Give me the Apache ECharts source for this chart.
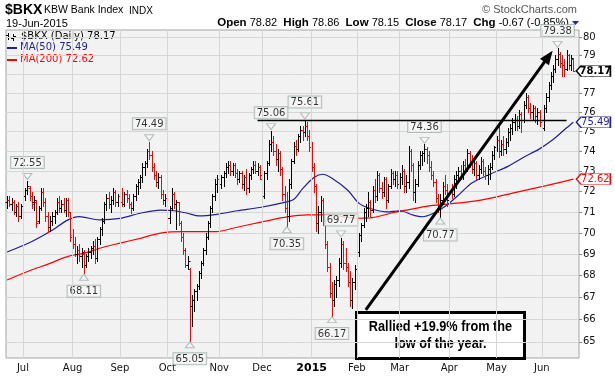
<!DOCTYPE html>
<html>
<head>
<meta charset="utf-8">
<script src="https://cdn.jsdelivr.net/npm/echarts@6/dist/echarts.min.js"></script>
<style>
  html, body { margin: 0; padding: 0; background: #fff; }
  #chart { width: 615px; height: 376px; }
</style>
</head>
<body>
<div id="chart"></div>
<script>
// trading days per month, Jun 20 2014 .. Jun 19 2015
const monthDays = [
  ["2014-06", [20, 23, 24, 25, 26, 27, 30]],
  ["2014-07", [1, 2, 3, 7, 8, 9, 10, 11, 14, 15, 16, 17, 18, 21, 22, 23, 24, 25, 28, 29, 30, 31]],
  ["2014-08", [1, 4, 5, 6, 7, 8, 11, 12, 13, 14, 15, 18, 19, 20, 21, 22, 25, 26, 27, 28, 29]],
  ["2014-09", [2, 3, 4, 5, 8, 9, 10, 11, 12, 15, 16, 17, 18, 19, 22, 23, 24, 25, 26, 29, 30]],
  ["2014-10", [1, 2, 3, 6, 7, 8, 9, 10, 13, 14, 15, 16, 17, 20, 21, 22, 23, 24, 27, 28, 29, 30, 31]],
  ["2014-11", [3, 4, 5, 6, 7, 10, 11, 12, 13, 14, 17, 18, 19, 20, 21, 24, 25, 26, 28]],
  ["2014-12", [1, 2, 3, 4, 5, 8, 9, 10, 11, 12, 15, 16, 17, 18, 19, 22, 23, 24, 26, 29, 30, 31]],
  ["2015-01", [2, 5, 6, 7, 8, 9, 12, 13, 14, 15, 16, 20, 21, 22, 23, 26, 27, 28, 29, 30]],
  ["2015-02", [2, 3, 4, 5, 6, 9, 10, 11, 12, 13, 17, 18, 19, 20, 23, 24, 25, 26, 27]],
  ["2015-03", [2, 3, 4, 5, 6, 9, 10, 11, 12, 13, 16, 17, 18, 19, 20, 23, 24, 25, 26, 27, 30, 31]],
  ["2015-04", [1, 2, 6, 7, 8, 9, 10, 13, 14, 15, 16, 17, 20, 21, 22, 23, 24, 27, 28, 29, 30]],
  ["2015-05", [1, 4, 5, 6, 7, 8, 11, 12, 13, 14, 15, 18, 19, 20, 21, 22, 26, 27, 28, 29]],
  ["2015-06", [1, 2, 3, 4, 5, 8, 9, 10, 11, 12, 15, 16, 17, 18, 19]],
];
const monthLabels = ["", "Jul", "Aug", "Sep", "Oct", "Nov", "Dec", "2015", "Feb", "Mar", "Apr", "May", "Jun"];

const opens = [
  71.5, 71.6, 71.4, 71.5, 71.0, 71.3, 70.8, 71.3, 71.8, 72.1, 72.2, 71.8, 71.5, 71.5, 70.6, 71.2, 72.0, 71.5, 70.8, 70.3,
  70.6, 70.8, 71.0, 71.5, 71.2, 71.4, 71.1, 71.6, 71.0, 69.9, 69.5, 69.0, 69.2, 68.9, 69.0, 68.5, 68.9, 69.1, 69.3, 69.4,
  68.8, 69.7, 70.2, 70.6, 71.4, 71.7, 71.4, 71.6, 72.0, 71.5, 71.8, 71.5, 71.4, 71.9, 71.7, 71.4, 71.2, 71.8, 72.3, 72.5,
  72.7, 73.2, 73.4, 74.0, 73.8, 73.2, 72.8, 72.5, 72.7, 71.9, 71.6, 71.7, 70.7, 71.2, 71.9, 71.4, 71.5, 70.5, 69.8, 69.2,
  68.5, 68.3, 66.6, 66.9, 67.3, 67.5, 68.1, 68.6, 69.2, 69.8, 70.5, 71.2, 71.8, 72.4, 72.6, 72.4, 72.7, 72.9, 73.2, 73.3,
  73.0, 73.3, 72.9, 72.6, 72.9, 72.4, 72.7, 72.2, 72.8, 73.1, 73.3, 73.0, 73.2, 72.6, 71.8, 72.9, 73.4, 74.4, 74.5, 74.0,
  73.6, 73.9, 73.1, 71.9, 71.2, 70.8, 72.4, 73.5, 74.3, 74.1, 74.8, 75.1, 75.0, 75.3, 74.8, 74.2, 73.2, 72.3, 70.5, 71.0,
  71.6, 70.6, 69.5, 68.4, 67.2, 66.9, 67.6, 67.8, 68.6, 69.5, 68.6, 68.4, 67.7, 66.9, 67.7, 68.3, 69.1, 69.9, 70.4, 71.0,
  71.2, 71.5, 71.1, 72.1, 71.8, 72.8, 72.2, 72.0, 72.6, 71.6, 72.3, 72.9, 72.6, 72.8, 72.4, 72.7, 73.0, 72.3, 72.5, 74.0,
  73.3, 72.0, 72.4, 73.3, 73.8, 73.9, 74.1, 73.8, 73.2, 72.8, 72.5, 71.7, 71.3, 71.6, 72.3, 72.1, 71.6, 72.0, 71.9, 72.6,
  72.8, 73.0, 72.8, 73.3, 73.1, 73.9, 73.5, 73.1, 73.4, 72.8, 73.1, 73.5, 73.0, 72.8, 73.1, 73.2, 73.8, 74.2, 74.6, 74.0,
  74.4, 74.1, 74.5, 75.0, 75.2, 75.5, 75.6, 75.3, 75.9, 75.6, 76.4, 76.8, 76.2, 76.0, 76.2, 75.8, 76.0, 75.5, 75.2, 76.2,
  76.8, 77.4, 77.9, 78.3, 78.8, 79.1, 78.6, 78.5, 78.3, 79.0, 78.5, 78.82,
];
const highs = [
  71.8, 71.8, 71.7, 71.6, 71.4, 71.5, 71.4, 71.9, 72.2, 72.55, 72.3, 72.0, 71.8, 71.6, 71.3, 72.2, 72.2, 71.7, 71.0, 70.8,
  71.0, 71.1, 71.7, 71.8, 71.6, 71.7, 71.7, 71.7, 71.0, 70.2, 69.8, 69.4, 69.5, 69.3, 69.2, 69.0, 69.3, 69.4, 69.6, 69.7,
  69.8, 70.3, 70.7, 71.5, 71.9, 72.0, 71.8, 72.2, 72.1, 71.9, 72.1, 72.2, 72.0, 72.1, 71.9, 71.5, 71.9, 72.4, 72.6, 72.8,
  73.4, 73.5, 74.1, 74.49, 74.0, 73.4, 73.0, 72.9, 72.8, 72.1, 71.9, 71.7, 71.3, 72.2, 72.0, 71.6, 71.5, 70.6, 70.0, 69.3,
  68.9, 68.35, 67.1, 67.4, 67.6, 68.2, 68.7, 69.3, 70.0, 70.6, 71.3, 71.9, 72.6, 72.8, 72.9, 72.8, 73.0, 73.4, 73.5, 73.5,
  73.4, 73.4, 73.1, 73.0, 73.0, 72.8, 73.1, 72.9, 73.2, 73.5, 73.5, 73.4, 73.3, 72.7, 73.0, 73.5, 74.6, 75.06, 74.8, 74.4,
  74.1, 74.0, 73.2, 72.3, 72.0, 72.6, 73.6, 74.5, 74.6, 74.9, 75.3, 75.3, 75.61, 75.5, 75.1, 74.5, 73.4, 72.4, 71.3, 71.8,
  71.7, 70.7, 69.6, 68.6, 67.7, 67.8, 68.0, 68.8, 69.77, 69.6, 69.3, 68.6, 68.2, 67.9, 68.5, 69.3, 70.0, 70.5, 71.2, 71.4,
  72.0, 71.6, 72.3, 72.6, 73.0, 72.9, 72.5, 72.7, 72.7, 72.4, 73.1, 73.0, 73.0, 73.0, 72.9, 73.3, 73.1, 72.8, 74.3, 74.1,
  73.4, 72.6, 73.5, 74.0, 74.0, 74.36, 74.2, 74.0, 73.5, 73.0, 72.6, 71.9, 71.9, 72.5, 72.8, 72.4, 72.2, 72.4, 72.8, 73.0,
  73.2, 73.3, 73.5, 73.6, 74.1, 74.0, 73.8, 73.6, 73.5, 73.3, 73.7, 73.6, 73.2, 73.3, 73.4, 74.0, 74.3, 74.8, 75.5, 74.6,
  74.8, 74.7, 75.2, 75.4, 75.7, 75.9, 75.8, 76.1, 76.0, 76.6, 77.0, 76.9, 76.5, 76.4, 76.3, 76.2, 76.1, 75.7, 76.4, 77.0,
  77.6, 78.1, 78.5, 79.0, 79.38, 79.2, 79.0, 78.8, 79.3, 79.1, 79.0, 78.86,
];
const lows = [
  71.2, 71.3, 71.1, 70.9, 70.8, 70.6, 70.7, 71.2, 71.6, 71.9, 71.6, 71.2, 71.1, 70.3, 70.5, 71.1, 71.3, 70.6, 70.05, 70.1,
  70.4, 70.5, 70.9, 71.0, 71.0, 71.0, 70.8, 70.8, 69.6, 69.3, 68.9, 68.6, 68.7, 68.4, 68.11, 68.4, 68.7, 68.8, 69.0, 68.6,
  68.7, 69.5, 69.9, 70.5, 71.1, 71.2, 71.0, 71.4, 71.3, 71.3, 71.2, 71.3, 71.3, 71.5, 71.2, 70.95, 71.1, 71.6, 71.9, 72.2,
  72.5, 72.8, 73.2, 73.6, 73.0, 72.6, 72.3, 72.2, 71.7, 71.4, 71.3, 70.5, 70.5, 71.1, 71.2, 70.2, 70.4, 69.6, 69.0, 68.4,
  68.3, 65.05, 65.7, 66.4, 66.9, 67.4, 67.9, 68.5, 69.0, 69.7, 70.3, 71.0, 71.6, 72.0, 72.1, 72.2, 72.3, 72.7, 72.9, 72.8,
  72.8, 72.7, 72.4, 72.5, 72.2, 72.1, 71.9, 72.0, 72.6, 72.9, 72.9, 72.8, 72.6, 71.2, 71.7, 72.6, 73.3, 74.0, 73.8, 73.3,
  73.0, 72.8, 71.6, 71.0, 70.35, 70.6, 72.2, 73.4, 73.8, 74.0, 74.5, 74.6, 74.8, 74.6, 74.0, 73.0, 72.0, 70.1, 70.0, 70.6,
  70.4, 69.3, 68.2, 67.0, 66.17, 66.6, 67.0, 67.5, 68.4, 68.3, 68.2, 67.5, 66.6, 66.5, 67.4, 68.1, 68.9, 69.6, 70.3, 70.6,
  70.8, 70.8, 71.0, 71.5, 71.6, 72.0, 71.7, 71.8, 71.2, 71.5, 72.2, 72.4, 72.3, 72.2, 72.2, 72.4, 72.0, 72.0, 72.2, 73.0,
  71.6, 71.5, 72.3, 73.1, 73.3, 73.5, 73.4, 73.0, 72.6, 72.3, 71.5, 71.0, 70.77, 71.4, 71.9, 71.3, 71.4, 71.7, 71.8, 72.2,
  72.5, 72.6, 72.6, 72.9, 73.0, 73.2, 72.9, 72.8, 72.6, 72.6, 72.9, 72.8, 72.6, 72.4, 72.6, 73.1, 73.6, 74.0, 73.7, 73.8,
  73.8, 73.9, 74.3, 74.6, 74.9, 75.1, 75.1, 75.2, 75.0, 75.5, 76.2, 76.0, 75.7, 75.6, 75.5, 75.4, 75.3, 74.95, 75.1, 76.0,
  76.6, 77.2, 77.6, 78.1, 78.5, 78.4, 77.9, 77.9, 78.2, 78.3, 78.2, 78.15,
];
const closes = [
  71.6, 71.4, 71.5, 71.0, 71.3, 70.8, 71.3, 71.8, 72.1, 72.3, 71.8, 71.4, 71.6, 70.5, 71.2, 72.0, 71.5, 70.8, 70.3, 70.6,
  70.8, 71.0, 71.5, 71.2, 71.4, 71.1, 71.6, 71.0, 69.8, 69.5, 69.0, 69.2, 68.9, 69.1, 68.5, 68.9, 69.1, 69.3, 69.4, 68.8,
  69.7, 70.2, 70.6, 71.4, 71.7, 71.4, 71.6, 72.0, 71.5, 71.8, 71.5, 71.4, 71.9, 71.7, 71.4, 71.2, 71.8, 72.3, 72.5, 72.7,
  73.2, 73.4, 74.0, 73.8, 73.2, 72.8, 72.5, 72.7, 71.9, 71.6, 71.7, 70.7, 71.2, 71.9, 71.4, 71.5, 70.5, 69.8, 69.2, 68.5,
  68.7, 66.6, 66.9, 67.3, 67.5, 68.1, 68.6, 69.2, 69.8, 70.5, 71.2, 71.8, 72.4, 72.6, 72.4, 72.7, 72.9, 73.2, 73.3, 73.0,
  73.3, 72.9, 72.6, 72.9, 72.4, 72.7, 72.2, 72.8, 73.1, 73.3, 73.0, 73.2, 72.8, 71.8, 72.9, 73.4, 74.4, 74.5, 74.0, 73.6,
  73.9, 73.1, 71.9, 71.2, 70.8, 72.4, 73.5, 74.3, 74.1, 74.8, 75.1, 75.0, 75.3, 74.8, 74.2, 73.2, 72.3, 70.5, 71.0, 71.6,
  70.6, 69.5, 68.4, 67.2, 66.9, 67.6, 67.8, 68.6, 69.5, 68.6, 68.4, 67.7, 66.9, 67.7, 68.3, 69.1, 69.9, 70.4, 71.0, 71.2,
  71.5, 71.1, 72.1, 71.8, 72.8, 72.2, 72.0, 72.6, 71.6, 72.3, 72.9, 72.6, 72.8, 72.4, 72.7, 73.0, 72.3, 72.5, 74.0, 73.3,
  72.0, 72.4, 73.3, 73.8, 73.9, 74.1, 73.8, 73.2, 72.8, 72.5, 71.7, 71.3, 71.6, 72.3, 72.1, 71.6, 72.0, 71.9, 72.6, 72.8,
  73.0, 72.8, 73.3, 73.1, 73.9, 73.5, 73.1, 73.4, 72.8, 73.1, 73.5, 73.0, 72.8, 73.1, 73.2, 73.8, 74.2, 74.6, 74.0, 74.4,
  74.1, 74.5, 75.0, 75.2, 75.5, 75.6, 75.3, 75.9, 75.6, 76.4, 76.8, 76.2, 76.0, 76.2, 75.8, 76.0, 75.5, 75.2, 76.2, 76.8,
  77.4, 77.9, 78.3, 78.8, 79.1, 78.6, 78.5, 78.3, 79.0, 78.5, 78.84, 78.17,
];

// moving averages read at sample days (index into trading days)
const ma50Idx = [0, 11, 19, 27, 32, 41, 50, 59, 68, 74, 80, 85, 93, 102, 112, 121, 127, 131, 136, 140, 144, 151, 156, 161, 168, 174, 180, 184, 189, 195, 201, 206, 214, 222, 229, 236, 242, 248, 251];
const ma50Val = [69.1, 69.6, 70.07, 70.63, 70.79, 70.63, 70.7, 70.95, 71.1, 71.07, 70.95, 70.82, 70.9, 71.07, 71.23, 71.43, 71.62, 72.15, 72.7, 72.86, 72.66, 72.07, 71.43, 71.18, 71.02, 71.07, 70.86, 70.78, 70.95, 71.35, 71.93, 72.43, 72.86, 73.25, 73.71, 74.13, 74.6, 75.2, 75.49];
const ma200Idx = [0, 11, 19, 27, 34, 41, 50, 59, 68, 78, 85, 93, 100, 108, 115, 122, 133, 143, 155, 162, 170, 177, 187, 195, 210, 224, 239, 251];
const ma200Val = [67.8, 68.27, 68.57, 68.9, 69.04, 69.28, 69.52, 69.75, 70.0, 70.07, 70.07, 70.07, 70.23, 70.42, 70.58, 70.74, 70.87, 70.87, 70.71, 70.74, 70.95, 71.1, 71.31, 71.39, 71.59, 71.93, 72.3, 72.62];

const yTicks = [65, 66, 67, 68, 69, 70, 71, 72, 73, 74, 75, 76, 77, 78, 79, 80];

// high / low callouts
const calloutIdx = [9, 34, 63, 81, 117, 124, 132, 144, 148, 185, 192, 244];
const calloutVal = [72.55, 68.11, 74.49, 65.05, 75.06, 70.35, 75.61, 66.17, 69.77, 74.36, 70.77, 79.38];
const calloutBelow = [false, true, false, true, false, true, false, true, false, false, true, false];

// annotations drawn on the chart
const resistanceLine = [[111, 75.61], [248, 75.61]];
const trendArrow = [[159, 66.43], [240, 78.95]];

const RED = "#ff0000";
const BLUE = "#1f1f99";
const FONT = '"Liberation Sans", Arial, sans-serif';
const VFONT = '"DejaVu Sans", Verdana, sans-serif';

const dates = [];
const monthStart = {};
monthDays.forEach(([ym, days], m) => {
  days.forEach((d, k) => {
    if (k === 0 && monthLabels[m]) monthStart[dates.length] = monthLabels[m];
    dates.push(ym + "-" + String(d).padStart(2, "0"));
  });
});
const categories = dates.concat(["pad1", "pad2"]); // small gap at the right edge like the original

const barData = dates.map((d, i) => [
  i, opens[i], highs[i], lows[i], closes[i],
  i > 0 && closes[i] < closes[i - 1] ? 1 : 0,
]);

const last = dates.length - 1;

function renderOhlc(params, api) {
  const i = api.value(0);
  const x = Math.round(api.coord([i, api.value(2)])[0]) + 0.5;
  const py = (v) => Math.round(api.coord([i, v])[1]) + 0.5;
  const yH = py(api.value(2)), yL = py(api.value(3));
  const yO = py(api.value(1)), yC = py(api.value(4));
  const style = { stroke: api.value(5) ? RED : "#000", lineWidth: 1 };
  return {
    type: "group",
    children: [
      { type: "line", shape: { x1: x, y1: yH - 0.5, x2: x, y2: yL + 0.5 }, style },
      { type: "line", shape: { x1: x - 2, y1: yO, x2: x, y2: yO }, style },
      { type: "line", shape: { x1: x, y1: yC, x2: x + 2, y2: yC }, style },
    ],
  };
}

const gridX = Object.keys(monthStart).map((k) => ({ xAxis: Number(k) }));

// boxed last-value tags on the price axis (arrow shaped, pointing left)
function endLabel(value, color, bold) {
  return {
    coord: [last, value],
    symbol: "path://M0,6 L5,0 L35,0 L35,12 L5,12 Z",
    symbolKeepAspect: false,
    symbolSize: [34, 11],
    symbolOffset: [20, 0],
    itemStyle: { color: "#fff", borderColor: color, borderWidth: 1 },
    label: {
      show: true,
      position: "inside",
      offset: [2, 0],
      formatter: value.toFixed(2),
      color: color,
      fontFamily: VFONT,
      fontSize: 10,
      fontWeight: bold ? "bold" : "normal",
    },
  };
}

const chart = echarts.init(document.getElementById("chart"), null, { renderer: "canvas" });

const option = {
  animation: false,
  backgroundColor: "#fff",
  grid: {
    left: 6, right: 36, top: 30, bottom: 18,
    show: true, backgroundColor: "#f2f2f2", borderColor: "#9ea8a6", borderWidth: 1,
  },
  xAxis: {
    type: "category",
    data: categories,
    boundaryGap: true,
    axisLine: { show: false },
    axisTick: { show: false },
    splitLine: { show: false },
    axisLabel: {
      interval: (idx) => monthStart[idx] !== undefined,
      formatter: (v, idx) => (monthStart[idx] === "2015" ? "{b|2015}" : monthStart[idx] || ""),
      color: "#111",
      fontFamily: VFONT,
      fontSize: 10,
      margin: 5,
      rich: { b: { fontWeight: "bold", fontFamily: VFONT, fontSize: 11, color: "#000" } },
    },
  },
  yAxis: {
    type: "log",
    logBase: 10,
    position: "right",
    min: 64.29,
    max: 80.38,
    axisLine: { show: false },
    axisTick: { show: true, customValues: yTicks, length: 3, lineStyle: { color: "#888" } },
    axisLabel: { customValues: yTicks, color: "#111", fontFamily: VFONT, fontSize: 10, margin: 4, formatter: (v) => String(Math.round(v)) },
    splitLine: { show: true, lineStyle: { color: "#d6d6d6", width: 1 } },
  },
  series: [
    {
      // vertical month grid lines
      type: "line",
      data: [],
      z: 1,
      markLine: {
        silent: true, symbol: "none", label: { show: false },
        lineStyle: { color: "#d6d6d6", width: 1, type: "solid" },
        data: gridX,
      },
    },
    {
      name: "MA(200)",
      type: "line",
      data: ma200Idx.map((i, k) => [i, ma200Val[k]]),
      smooth: 0.3,
      showSymbol: false,
      z: 2,
      lineStyle: { color: RED, width: 1.2 },
      markPoint: { silent: true, z: 6, data: [endLabel(ma200Val[ma200Val.length - 1], RED, false)] },
    },
    {
      name: "MA(50)",
      type: "line",
      data: ma50Idx.map((i, k) => [i, ma50Val[k]]),
      smooth: 0.3,
      showSymbol: false,
      z: 2,
      lineStyle: { color: BLUE, width: 1.2 },
      markPoint: { silent: true, z: 6, data: [endLabel(ma50Val[ma50Val.length - 1], BLUE, false)] },
    },
    {
      name: "$BKX",
      type: "custom",
      renderItem: renderOhlc,
      data: barData,
      encode: { x: 0, y: [1, 2, 3, 4] },
      z: 3,
      markPoint: { silent: true, z: 6, data: [endLabel(closes[last], "#000", true)] },
      markLine: {
        silent: true,
        data: [
          [
            { coord: resistanceLine[0], symbol: "none", lineStyle: { color: "#000", width: 1.3, type: "solid" } },
            { coord: resistanceLine[1], symbol: "none" },
          ],
          [
            { coord: trendArrow[0], symbol: "none", lineStyle: { color: "#000", width: 3, type: "solid" } },
            { coord: trendArrow[1], symbol: "triangle", symbolSize: [11, 14] },
          ],
        ],
        label: { show: false },
        symbol: "none",
      },
    },
    {
      // callout labels for highs and lows
      type: "scatter",
      z: 4,
      data: calloutIdx.map((i, k) => ({
        value: [i, calloutVal[k]],
        symbolRotate: calloutBelow[k] ? 0 : 180,
        symbolOffset: [0, calloutBelow[k] ? 4 : -4],
        label: { position: calloutBelow[k] ? "bottom" : "top" },
      })),
      symbol: "triangle",
      symbolSize: [9, 6],
      itemStyle: { color: "#f7f7f7", borderColor: "#9fb0aa", borderWidth: 1 },
      label: {
        show: true,
        distance: 5,
        formatter: (p) => p.value[1].toFixed(2),
        color: "#000",
        fontFamily: VFONT,
        fontSize: 10,
        backgroundColor: "#f7f7f7",
        borderColor: "#9fb0aa",
        borderWidth: 1,
        padding: [1, 2, 0, 2],
      },
    },
  ],
  graphic: [
    { type: "text", left: 5, top: 3, style: { text: "$BKX", font: "bold 14px " + FONT, fill: "#000" } },
    { type: "text", left: 44, top: 5, style: { text: "KBW Bank Index", font: "10.5px " + FONT, fill: "#000" } },
    { type: "text", left: 129, top: 6, style: { text: "INDX", font: "10px " + FONT, fill: "#000" } },
    { type: "text", left: 6, top: 18, style: { text: "19-Jun-2015", font: "11px " + FONT, fill: "#000" } },
    { type: "text", right: 38, top: 4, style: { text: "\u00a9 StockCharts.com", font: "11px " + FONT, fill: "#555" } },
    {
      type: "text", right: 46, top: 17,
      style: {
        text: "{b|Open} 78.82  {b|High} 78.86  {b|Low} 78.15  {b|Close} 78.17  {b|Chg} -0.67 (-0.85%)",
        font: "11px " + FONT, fill: "#000",
        rich: { b: { font: "bold 11.5px " + FONT, fill: "#000" } },
      },
    },
    { type: "polygon", shape: { points: [[572, 21], [579, 21], [575.5, 25]] }, style: { fill: "#1a1aee" } },
    // in-chart legend
    { type: "line", shape: { x1: 8.5, y1: 33, x2: 8.5, y2: 40 }, style: { stroke: "#000", lineWidth: 1 } },
    { type: "line", shape: { x1: 6, y1: 35.5, x2: 8.5, y2: 35.5 }, style: { stroke: "#000", lineWidth: 1 } },
    { type: "line", shape: { x1: 8.5, y1: 37.5, x2: 11, y2: 37.5 }, style: { stroke: "#000", lineWidth: 1 } },
    { type: "line", shape: { x1: 13.5, y1: 34, x2: 13.5, y2: 41 }, style: { stroke: "#000", lineWidth: 1 } },
    { type: "line", shape: { x1: 11, y1: 38.5, x2: 13.5, y2: 38.5 }, style: { stroke: "#000", lineWidth: 1 } },
    { type: "line", shape: { x1: 13.5, y1: 36.5, x2: 16, y2: 36.5 }, style: { stroke: "#000", lineWidth: 1 } },
    { type: "text", left: 21, top: 31, style: { text: "$BKX (Daily) 78.17", font: "10px " + VFONT, fill: "#000" } },
    { type: "rect", shape: { x: 7, y: 47, width: 10, height: 2 }, style: { fill: BLUE } },
    { type: "text", left: 20, top: 42, style: { text: "MA(50) 75.49", font: "10px " + VFONT, fill: BLUE } },
    { type: "rect", shape: { x: 7, y: 59, width: 10, height: 2 }, style: { fill: RED } },
    { type: "text", left: 20, top: 54, style: { text: "MA(200) 72.62", font: "10px " + VFONT, fill: RED } },
    // rally note
    {
      type: "group", left: 355, top: 311, z: 100,
      children: [
        { type: "rect", shape: { x: 1.5, y: 1.5, width: 168, height: 46 }, style: { fill: "#fff", stroke: "#000", lineWidth: 3 } },
        {
          type: "text", x: 85.5, y: 25, scaleX: 0.91,
          style: {
            text: "Rallied +19.9% from the\nlow of the year.",
            font: 'bold 14px "Liberation Sans", Arial, sans-serif',
            fill: "#000", align: "center", verticalAlign: "middle", lineHeight: 17,
          },
        },
      ],
    },
  ],
};

chart.setOption(option);
</script>
</body>
</html>
